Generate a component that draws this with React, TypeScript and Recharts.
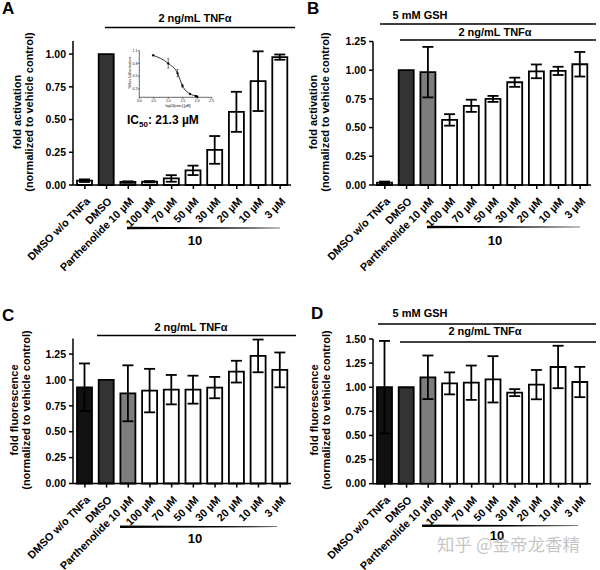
import React from 'react';
import { BarChart, Bar, Cell, ErrorBar, XAxis, YAxis, ComposedChart, Line } from 'recharts';

const FONT = '"Liberation Sans", Arial, sans-serif';

const categories = ['DMSO w/o TNFa', 'DMSO', 'Parthenolide 10 µM', '100 µM', '70 µM', '50 µM', '30 µM', '20 µM', '10 µM', '3 µM'];

// panel A: NF-kB activation
const activationA = [0.033, 1.0, 0.023, 0.025, 0.05, 0.112, 0.268, 0.559, 0.793, 0.977];
const activationErrA = [0.01, 0, 0.005, 0.005, 0.025, 0.036, 0.106, 0.153, 0.228, 0.02];
// panel B: activation with 5 mM GSH
const activationB = [0.02, 1.0, 0.983, 0.567, 0.69, 0.75, 0.895, 0.99, 0.994, 1.052];
const activationErrB = [0.01, 0, 0.22, 0.05, 0.053, 0.026, 0.04, 0.06, 0.036, 0.107];
// panel C: fluorescence
const fluorescenceC = [0.929, 1.0, 0.871, 0.897, 0.906, 0.906, 0.926, 1.08, 1.232, 1.097];
const fluorescenceErrC = [0.23, 0, 0.27, 0.21, 0.142, 0.135, 0.103, 0.105, 0.158, 0.168];
// panel D: fluorescence with 5 mM GSH
const fluorescenceD = [1.0, 1.0, 1.103, 1.04, 1.047, 1.082, 0.944, 1.027, 1.21, 1.054];
const fluorescenceErrD = [0.48, 0, 0.226, 0.114, 0.178, 0.24, 0.036, 0.152, 0.22, 0.157];

const ticksA = [0, 0.25, 0.5, 0.75, 1.0];
const ticksB = [0, 0.25, 0.5, 0.75, 1.0, 1.25];
const ticksC = [0, 0.25, 0.5, 0.75, 1.0, 1.25];
const ticksD = [0, 0.25, 0.5, 0.75, 1.0, 1.25, 1.5];

const fillsTop = ['#ffffff', '#333333', '#7d7d7d', '#ffffff', '#ffffff', '#ffffff', '#ffffff', '#ffffff', '#ffffff', '#ffffff'];
const fillsBottom = ['#111111', '#333333', '#7d7d7d', '#ffffff', '#ffffff', '#ffffff', '#ffffff', '#ffffff', '#ffffff', '#ffffff'];

// inset dose-response (log10 conc in µM)
const insetLogConc = [0.48, 1.0, 1.32, 1.49, 1.75, 1.95, 2.0];
const insetActivation = [0.99, 0.8, 0.57, 0.27, 0.08, 0.03, 0.015];
const insetErr = [0.01, 0.11, 0.086, 0.03, 0.01, 0.01, 0.01];
const insetXTicks = [0, 0.5, 1.0, 1.5, 2.0, 2.5];
const insetYTicks = [0, 0.1, 0.2, 0.3, 0.4, 0.5, 0.6, 0.7, 0.8, 0.9, 1.0, 1.1];

const AngledTick = (props: any) => {
  const { x, y, payload } = props;
  const px = x + 6;
  const py = y + 11;
  return (
    <text x={px} y={py} transform={`rotate(-45 ${px} ${py})`} textAnchor="end" fontSize={10.8} fontWeight="bold" fill="#000" fontFamily={FONT}>
      {payload.value}
    </text>
  );
};

function Panel({ values, errs, fills, domain, ticks, top, axisHeight, left, pageTop }: any) {
  const data = categories.map((name, i) => ({ name, value: values[i], err: errs[i] }));
  return (
    <div style={{ position: 'absolute', left, top: pageTop }}>
      <BarChart width={300} height={285} data={data} margin={{ top, right: 9, bottom: 0, left: 0 }}>
        <XAxis
          dataKey="name"
          interval={0}
          height={axisHeight}
          padding={{ left: 1, right: 0 }}
          tick={<AngledTick />}
          tickSize={4}
          axisLine={{ stroke: '#000', strokeWidth: 1.5 }}
          tickLine={{ stroke: '#000', strokeWidth: 1.5 }}
        />
        <YAxis
          width={73}
          domain={domain}
          ticks={ticks}
          tickFormatter={(v: number) => v.toFixed(2)}
          tickSize={4}
          tickMargin={3}
          axisLine={{ stroke: '#000', strokeWidth: 1.5 }}
          tickLine={{ stroke: '#000', strokeWidth: 1.5 }}
          tick={{ fontSize: 10.5, fontWeight: 'bold', fill: '#000', fontFamily: FONT }}
        />
        <Bar dataKey="value" barSize={15} stroke="#000" strokeWidth={1.8} isAnimationActive={false}>
          {data.map((d, i) => (
            <Cell key={d.name} fill={fills[i]} />
          ))}
          <ErrorBar dataKey="err" width={5.5} stroke="#000" strokeWidth={1.8} />
        </Bar>
      </BarChart>
    </div>
  );
}

function Inset() {
  const data = insetLogConc.map((x, i) => ({ x, y: insetActivation[i], err: insetErr[i] }));
  const tickStyle = { fontSize: 3.4, fill: '#000', fontFamily: FONT };
  return (
    <div style={{ position: 'absolute', left: 120, top: 40 }}>
      <ComposedChart width={100} height={70} data={data} margin={{ top: 10.7, right: 8.3, bottom: 4.7, left: 6.3 }}>
        <XAxis type="number" dataKey="x" domain={[0, 2.5]} ticks={insetXTicks} tickFormatter={(v: number) => v.toFixed(1)}
          height={8} tickSize={1.5} tickMargin={0.5} tick={tickStyle}
          axisLine={{ stroke: '#000', strokeWidth: 0.6 }} tickLine={{ stroke: '#000', strokeWidth: 0.6 }} />
        <YAxis type="number" domain={[0, 1.1]} ticks={insetYTicks} tickFormatter={(v: number) => v.toFixed(1)}
          width={13} tickSize={1.5} tickMargin={0.5} tick={tickStyle}
          axisLine={{ stroke: '#000', strokeWidth: 0.6 }} tickLine={{ stroke: '#000', strokeWidth: 0.6 }} />
        <Line type="monotone" dataKey="y" stroke="#000" strokeWidth={0.8} dot={{ r: 1, fill: '#000', stroke: '#000', strokeWidth: 0.3 }} isAnimationActive={false}>
          <ErrorBar dataKey="err" width={1} stroke="#000" strokeWidth={0.5} />
        </Line>
      </ComposedChart>
    </div>
  );
}

const bold = { fontWeight: 'bold' as const, fontFamily: FONT, fill: '#000' };

function Wedge({ x1, x2, y }: any) {
  return <polygon points={`${x1},${y - 1.3} ${x2},${y - 0.3} ${x2},${y + 0.3} ${x1},${y + 1.3}`} fill="#000" />;
}

function YLabel({ x, y, first }: any) {
  return (
    <g>
      <text x={x} y={y} transform={`rotate(-90 ${x} ${y})`} textAnchor="middle" dominantBaseline="central" fontSize={11} {...bold}>{first}</text>
      <text x={x + 12} y={y} transform={`rotate(-90 ${x + 12} ${y})`} textAnchor="middle" dominantBaseline="central" fontSize={11} {...bold}>(normalized to vehicle control)</text>
    </g>
  );
}

function Overlay() {
  return (
    <svg width={600} height={570} style={{ position: 'absolute', left: 0, top: 0, pointerEvents: 'none' }}>
      {/* panel letters */}
      <text x={2} y={14} fontSize={17} {...bold}>A</text>
      <text x={307} y={14} fontSize={17} {...bold}>B</text>
      <text x={2} y={321} fontSize={17} {...bold}>C</text>
      <text x={311} y={319} fontSize={17} {...bold}>D</text>

      <YLabel x={17} y={112} first="fold activation" />
      <YLabel x={313} y={112} first="fold activation" />
      <YLabel x={14} y={410} first="fold fluorescence" />
      <YLabel x={314} y={410} first="fold fluorescence" />

      {/* treatment headers */}
      <text x={195} y={22} fontSize={11} textAnchor="middle" {...bold}>2 ng/mL TNFα</text>
      <line x1={105} x2={295} y1={27.5} y2={27.5} stroke="#000" strokeWidth={1.5} />

      <text x={420} y={18.5} fontSize={11} textAnchor="middle" {...bold}>5 mM GSH</text>
      <line x1={380} x2={596} y1={24} y2={24} stroke="#000" strokeWidth={1.5} />
      <text x={495} y={36} fontSize={11} textAnchor="middle" {...bold}>2 ng/mL TNFα</text>
      <line x1={400} x2={596} y1={40} y2={40} stroke="#000" strokeWidth={1.5} />

      <text x={191} y={331} fontSize={11} textAnchor="middle" {...bold}>2 ng/mL TNFα</text>
      <line x1={97} x2={296} y1={335.5} y2={335.5} stroke="#000" strokeWidth={1.5} />

      <text x={420} y={317} fontSize={11} textAnchor="middle" {...bold}>5 mM GSH</text>
      <line x1={378} x2={596} y1={324} y2={324} stroke="#000" strokeWidth={1.5} />
      <text x={485} y={335} fontSize={11} textAnchor="middle" {...bold}>2 ng/mL TNFα</text>
      <line x1={400} x2={596} y1={342} y2={342} stroke="#000" strokeWidth={1.5} />

      {/* compound 10 dose wedges */}
      <Wedge x1={127} x2={280} y={228} />
      <text x={195} y={245} fontSize={13} textAnchor="middle" {...bold}>10</text>
      <Wedge x1={427} x2={580} y={227} />
      <text x={495} y={245} fontSize={13} textAnchor="middle" {...bold}>10</text>
      <Wedge x1={120} x2={277} y={526.7} />
      <text x={195} y={543} fontSize={13} textAnchor="middle" {...bold}>10</text>
      <Wedge x1={422} x2={578} y={525.7} />
      <text x={497} y={540} fontSize={13} textAnchor="middle" {...bold}>10</text>

      {/* IC50 + inset axis titles */}
      <text x={127} y={123.5} fontSize={12} {...bold}>
        IC<tspan fontSize={8} dy={3}>50</tspan><tspan dy={-3}>: 21.3 µM</tspan>
      </text>
      <text x={129.5} y={73} transform="rotate(-90 129.5 73)" fontSize={3.4} textAnchor="middle" dominantBaseline="central" fontFamily={FONT}>%Max fold activation</text>
      <text x={178} y={106.5} fontSize={3.4} textAnchor="middle" fontFamily={FONT}>log10[conc] [µM]</text>

      <text x={437} y={551} fontSize={17.5} fill="rgba(140,140,140,0.5)" fontFamily='"Noto Sans CJK SC", sans-serif'>知乎 @金帝龙香精</text>
    </svg>
  );
}

export default function App() {
  return (
    <div style={{ position: 'absolute', left: 0, top: 0, width: 600, height: 570, background: '#fff', fontFamily: FONT }}>
      <Panel values={activationA} errs={activationErrA} fills={fillsTop} domain={[0, 1.1]} ticks={ticksA} top={41} axisHeight={100} left={0} pageTop={0} />
      <Panel values={activationB} errs={activationErrB} fills={fillsTop} domain={[0, 1.25]} ticks={ticksB} top={41.5} axisHeight={100} left={300} pageTop={0} />
      <Panel values={fluorescenceC} errs={fluorescenceErrC} fills={fillsBottom} domain={[0, 1.4]} ticks={ticksC} top={53.5} axisHeight={86.5} left={0} pageTop={285} />
      <Panel values={fluorescenceD} errs={fluorescenceErrD} fills={fillsBottom} domain={[0, 1.5]} ticks={ticksD} top={54} axisHeight={86.3} left={300} pageTop={285} />
      <Inset />
      <Overlay />
    </div>
  );
}
